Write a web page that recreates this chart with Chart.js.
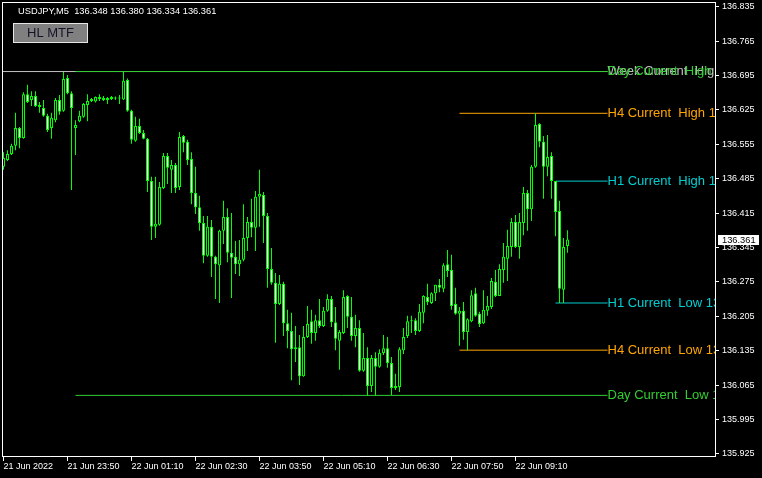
<!DOCTYPE html>
<html>
<head>
<meta charset="utf-8">
<title>USDJPY,M5</title>
<script src="https://cdn.jsdelivr.net/npm/chart.js@4.4.1/dist/chart.umd.min.js"></script>
<style>
    html, body { margin: 0; padding: 0; background: #000; }
    canvas { display: block; }
</style>
</head>
<body>
<canvas id="graficoVelas" width="762" height="478"></canvas>
<script>
const simbolo = 'USDJPY,M5';

// velas M5, una por barra (indice 0 = primera barra visible)
const opens = [
    136.509, 136.523, 136.535, 136.552, 136.588, 136.568, 136.657, 136.645, 136.653, 136.631,
    136.629, 136.613, 136.588, 136.604, 136.645, 136.623, 136.690, 136.659, 136.588, 136.602,
    136.611, 136.635, 136.647, 136.642, 136.647, 136.649, 136.645, 136.647, 136.649, 136.648,
    136.646, 136.686, 136.623, 136.562, 136.592, 136.578, 136.566, 136.480, 136.387, 136.391,
    136.466, 136.531, 136.503, 136.513, 136.468, 136.572, 136.560, 136.525, 136.456, 136.427,
    136.395, 136.328, 136.387, 136.326, 136.309, 136.379, 136.407, 136.334, 136.326, 136.311,
    136.320, 136.364, 136.397, 136.385, 136.448, 136.452, 136.409, 136.301, 136.273, 136.230,
    136.271, 136.191, 136.175, 136.138, 136.142, 136.083, 136.163, 136.195, 136.171, 136.197,
    136.185, 136.216, 136.240, 136.193, 136.155, 136.171, 136.246, 136.204, 136.165, 136.181,
    136.094, 136.120, 136.063, 136.120, 136.102, 136.130, 136.140, 136.110, 136.059, 136.061,
    136.136, 136.165, 136.195, 136.197, 136.175, 136.212, 136.244, 136.232, 136.252, 136.269,
    136.261, 136.311, 136.299, 136.230, 136.210, 136.216, 136.173, 136.195, 136.252, 136.210,
    136.191, 136.216, 136.224, 136.275, 136.246, 136.299, 136.322, 136.346, 136.397, 136.346,
    136.395, 136.456, 136.423, 136.509, 136.596, 136.560, 136.509, 136.531, 136.480, 136.419,
    136.259, 136.348
];
const highs = [
    136.539, 136.543, 136.556, 136.619, 136.590, 136.661, 136.676, 136.663, 136.663, 136.641,
    136.645, 136.617, 136.619, 136.649, 136.655, 136.702, 136.696, 136.663, 136.604, 136.623,
    136.639, 136.657, 136.649, 136.652, 136.657, 136.653, 136.651, 136.653, 136.652, 136.655,
    136.703, 136.689, 136.625, 136.611, 136.607, 136.584, 136.568, 136.489, 136.489, 136.478,
    136.537, 136.537, 136.523, 136.517, 136.580, 136.574, 136.564, 136.539, 136.509, 136.450,
    136.409, 136.409, 136.401, 136.328, 136.381, 136.440, 136.425, 136.415, 136.358, 136.360,
    136.433, 136.407, 136.444, 136.460, 136.503, 136.458, 136.415, 136.344, 136.293, 136.289,
    136.275, 136.218, 136.212, 136.185, 136.167, 136.185, 136.226, 136.218, 136.208, 136.240,
    136.224, 136.250, 136.246, 136.224, 136.177, 136.258, 136.248, 136.244, 136.208, 136.197,
    136.171, 136.142, 136.126, 136.132, 136.138, 136.167, 136.163, 136.122, 136.088, 136.142,
    136.181, 136.206, 136.206, 136.201, 136.230, 136.248, 136.271, 136.254, 136.269, 136.281,
    136.313, 136.340, 136.330, 136.263, 136.224, 136.234, 136.201, 136.258, 136.263, 136.214,
    136.258, 136.246, 136.283, 136.299, 136.311, 136.354, 136.381, 136.405, 136.411, 136.415,
    136.468, 136.462, 136.513, 136.618, 136.598, 136.572, 136.574, 136.539, 136.480, 136.440,
    136.364, 136.380
];
const lows = [
    136.503, 136.521, 136.533, 136.543, 136.547, 136.566, 136.639, 136.633, 136.631, 136.619,
    136.611, 136.580, 136.566, 136.600, 136.615, 136.621, 136.657, 136.462, 136.533, 136.600,
    136.609, 136.602, 136.641, 136.640, 136.643, 136.643, 136.637, 136.645, 136.645, 136.637,
    136.645, 136.621, 136.556, 136.560, 136.576, 136.565, 136.458, 136.360, 136.364, 136.389,
    136.464, 136.474, 136.456, 136.456, 136.462, 136.539, 136.513, 136.433, 136.413, 136.379,
    136.313, 136.326, 136.285, 136.240, 136.232, 136.352, 136.315, 136.242, 136.291, 136.287,
    136.317, 136.338, 136.366, 136.338, 136.387, 136.354, 136.263, 136.269, 136.151, 136.228,
    136.165, 136.140, 136.075, 136.112, 136.065, 136.082, 136.161, 136.149, 136.155, 136.181,
    136.183, 136.214, 136.183, 136.136, 136.096, 136.169, 136.181, 136.155, 136.142, 136.092,
    136.092, 136.044, 136.051, 136.044, 136.100, 136.126, 136.100, 136.045, 136.055, 136.051,
    136.128, 136.161, 136.171, 136.167, 136.173, 136.191, 136.228, 136.230, 136.236, 136.254,
    136.254, 136.285, 136.218, 136.208, 136.145, 136.157, 136.136, 136.193, 136.204, 136.183,
    136.189, 136.206, 136.220, 136.244, 136.246, 136.273, 136.277, 136.326, 136.344, 136.322,
    136.370, 136.379, 136.399, 136.507, 136.549, 136.444, 136.490, 136.444, 136.368, 136.232,
    136.232, 136.334
];
const closes = [
    136.527, 136.535, 136.552, 136.588, 136.568, 136.657, 136.641, 136.653, 136.633, 136.635,
    136.613, 136.584, 136.609, 136.645, 136.621, 136.688, 136.659, 136.629, 136.594, 136.613,
    136.637, 136.643, 136.643, 136.651, 136.651, 136.645, 136.649, 136.651, 136.648, 136.649,
    136.684, 136.623, 136.564, 136.592, 136.578, 136.566, 136.480, 136.387, 136.393, 136.468,
    136.531, 136.507, 136.513, 136.466, 136.570, 136.558, 136.523, 136.456, 136.427, 136.395,
    136.328, 136.387, 136.326, 136.311, 136.379, 136.407, 136.334, 136.324, 136.311, 136.320,
    136.364, 136.397, 136.385, 136.448, 136.454, 136.409, 136.301, 136.273, 136.230, 136.271,
    136.191, 136.175, 136.138, 136.142, 136.083, 136.163, 136.189, 136.171, 136.197, 136.185,
    136.216, 136.240, 136.193, 136.159, 136.173, 136.244, 136.204, 136.165, 136.181, 136.094,
    136.120, 136.063, 136.120, 136.102, 136.130, 136.140, 136.110, 136.059, 136.063, 136.138,
    136.163, 136.195, 136.197, 136.175, 136.214, 136.246, 136.234, 136.252, 136.269, 136.263,
    136.309, 136.297, 136.226, 136.210, 136.216, 136.173, 136.199, 136.248, 136.206, 136.189,
    136.218, 136.226, 136.277, 136.246, 136.301, 136.326, 136.348, 136.397, 136.346, 136.397,
    136.456, 136.423, 136.509, 136.594, 136.560, 136.509, 136.529, 136.480, 136.417, 136.261,
    136.346, 136.361
];

// etiquetas del eje de tiempo (cada 16 barras)
const xTickBars = [0, 16, 32, 48, 64, 80, 96, 112, 128];
const xLabels = ['21 Jun 2022', '21 Jun 23:50', '22 Jun 01:10', '22 Jun 02:30', '22 Jun 03:50',
    '22 Jun 05:10', '22 Jun 06:30', '22 Jun 07:50', '22 Jun 09:10'];
const yTicks = [135.925, 135.995, 136.065, 136.135, 136.205, 136.275, 136.345,
    136.415, 136.485, 136.555, 136.625, 136.695, 136.765, 136.835];

// niveles del indicador HL MTF
const levelNames = ['Week Current  High', 'Day Current  High', 'H4 Current  High', 'H1 Current  High',
    'H1 Current  Low', 'H4 Current  Low', 'Day Current  Low'];
const levelValues = [136.703, 136.703, 136.618, 136.480, 136.232, 136.136, 136.044];
const levelFrom = [-1, 18, 114, 138, 138, 114, 18];
const levelTo = 151;
const levelColors = ['#c0c0c0', '#32cd32', '#ffa500', '#00ced1', '#00ced1', '#ffa500', '#32cd32'];

const fuente = '"Liberation Sans", Arial, sans-serif';
const last = opens.length - 1;

const plugin = {
    id: 'hlmtf',
    afterDatasetsDraw(chart) {
        const {ctx, chartArea: a, scales: {x, y}} = chart;
        ctx.save();
        ctx.beginPath();
        ctx.rect(a.left, a.top, a.right - a.left, a.bottom - a.top);
        ctx.clip();
        ctx.font = '13px ' + fuente;
        ctx.textBaseline = 'middle';
        ctx.textAlign = 'left';
        levelNames.forEach((nombre, k) => {
            ctx.fillStyle = levelColors[k];
            ctx.fillText(nombre + ' ' + levelValues[k].toFixed(3),
                    x.getPixelForValue(levelTo), y.getPixelForValue(levelValues[k]));
        });
        ctx.restore();

        ctx.save();
        ctx.strokeStyle = '#ffffff';
        ctx.lineWidth = 1;
        ctx.strokeRect(a.left + 0.5, a.top + 0.5, a.right - a.left - 1, a.bottom - a.top - 1);
        ctx.restore();
    },
    afterDraw(chart) {
        const {ctx, scales: {y}} = chart;
        ctx.save();
        // cabecera
        ctx.font = '9.3px ' + fuente;
        ctx.fillStyle = '#ffffff';
        ctx.textBaseline = 'middle';
        ctx.fillText(simbolo + '  ' + [opens[last], highs[last], lows[last], closes[last]]
                .map(v => v.toFixed(3)).join(' '), 18, 11);

        // boton
        ctx.fillStyle = '#808080';
        ctx.fillRect(13, 23, 75, 20);
        ctx.strokeStyle = '#e6e6e6';
        ctx.strokeRect(13.5, 23.5, 74, 19);
        ctx.font = '13px ' + fuente;
        ctx.fillStyle = '#141428';
        ctx.textAlign = 'center';
        ctx.fillText('HL MTF', 50.5, 33.5);

        // precio actual
        const py = y.getPixelForValue(closes[last]);
        ctx.fillStyle = '#ffffff';
        ctx.fillRect(718, Math.round(py) - 5, 41, 10);
        ctx.fillStyle = '#000000';
        ctx.font = '9.3px ' + fuente;
        ctx.textAlign = 'left';
        ctx.fillText(closes[last].toFixed(3), 722, Math.round(py));
        ctx.restore();
    }
};

const ctx = document.getElementById('graficoVelas').getContext('2d');

const levelSets = levelNames.map((nombre, k) => ({
        type: 'line',
        label: nombre,
        data: [{x: levelFrom[k], y: levelValues[k]}, {x: levelTo, y: levelValues[k]}],
        borderColor: levelColors[k],
        borderWidth: 1,
        pointRadius: 0,
        tension: 0,
        order: 10 - k
    }));

new Chart(ctx, {
    type: 'bar',
    data: {
        datasets: [{
                label: 'cuerpos',
                data: opens.map((o, i) => ({x: i, y: [o, closes[i]]})),
                backgroundColor: opens.map((o, i) => closes[i] >= o ? '#000000' : '#ffffff'),
                borderColor: '#00ff00',
                borderWidth: 1,
                borderSkipped: false,
                inflateAmount: 0,
                minBarLength: 1,
                grouped: false,
                maxBarThickness: 3,
                barPercentage: 1,
                categoryPercentage: 1,
                order: 1
            }, {
                label: 'mechas',
                data: lows.map((l, i) => ({x: i, y: [l, highs[i]]})),
                backgroundColor: '#00ff00',
                borderWidth: 0,
                inflateAmount: 0,
                grouped: false,
                maxBarThickness: 1,
                barPercentage: 1,
                categoryPercentage: 1,
                order: 2
            }, ...levelSets]
    },
    options: {
        responsive: false,
        animation: false,
        events: [],
        layout: {padding: {left: 2, top: 2, right: 0, bottom: 0}},
        plugins: {
            legend: {display: false},
            tooltip: {enabled: false}
        },
        scales: {
            x: {
                type: 'linear',
                position: 'bottom',
                min: -0.375,
                max: 178.125,
                offset: false,
                bounds: 'data',
                border: {display: false},
                grid: {display: true, offset: false, drawOnChartArea: false, drawTicks: true,
                    tickLength: 4, color: '#ffffff'},
                ticks: {
                    color: '#ffffff',
                    font: {family: fuente, size: 9},
                    align: 'start',
                    maxRotation: 0,
                    autoSkip: false,
                    padding: 0,
                    callback: (v, i) => xLabels[i]
                },
                afterBuildTicks: s => { s.ticks = xTickBars.map(v => ({value: v})); },
                afterFit: s => {
                    s.height = 21;
                    s.paddingLeft = 0;
                    s.paddingRight = 0;
                    s.paddingTop = 0;
                    s.paddingBottom = 0;
                }
            },
            y: {
                type: 'linear',
                position: 'right',
                min: 135.9186,
                max: 136.8445,
                beginAtZero: false,
                bounds: 'data',
                border: {display: false},
                grid: {display: true, drawOnChartArea: false, drawTicks: true,
                    tickLength: 3, color: '#ffffff'},
                ticks: {
                    color: '#ffffff',
                    font: {family: fuente, size: 9},
                    padding: 3,
                    autoSkip: false,
                    callback: v => v.toFixed(3)
                },
                afterBuildTicks: s => { s.ticks = yTicks.map(v => ({value: v})); },
                afterFit: s => {
                    s.width = 46;
                    s.paddingLeft = 0;
                    s.paddingRight = 0;
                    s.paddingTop = 0;
                    s.paddingBottom = 0;
                }
            }
        }
    },
    plugins: [plugin]
});
</script>
</body>
</html>
